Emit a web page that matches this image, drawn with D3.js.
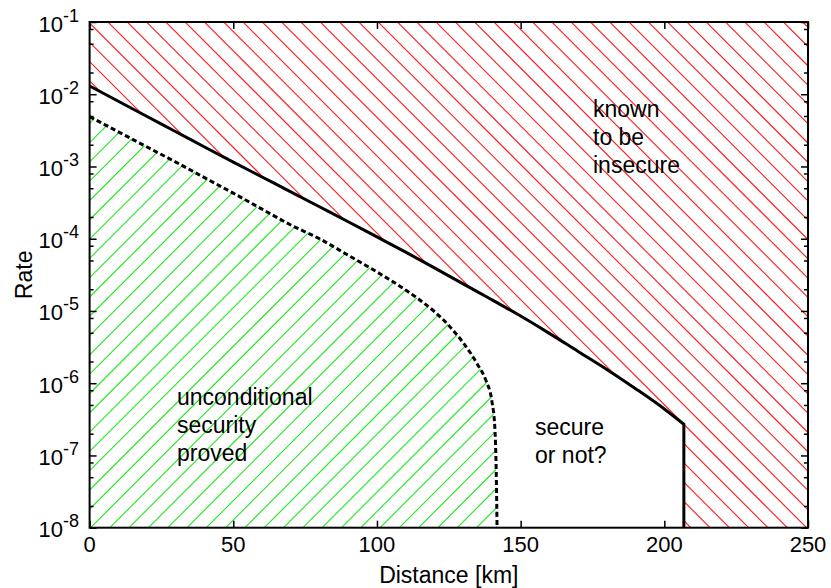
<!DOCTYPE html>
<html><head><meta charset="utf-8">
<script src="https://cdn.jsdelivr.net/npm/d3@7"></script>
<style>
html,body{margin:0;padding:0;background:#fff;}
text{font-family:"Liberation Sans",Arial,Helvetica,sans-serif;fill:#000;}
</style></head>
<body>
<svg id="chart" width="831" height="588"></svg>
<script>
// ---- data ----
const upperDist = [0,10,20,30,40,50,60,70,80,90,100,110,120,130,140,150,160,170,180,190,200,206.8];
const upperRate = [1.30e-2,8.0e-3,4.92e-3,3.03e-3,1.86e-3,1.15e-3,7.16e-4,4.46e-4,2.77e-4,1.72e-4,1.06e-4,6.52e-5,3.95e-5,2.37e-5,1.43e-5,8.5e-6,4.9e-6,2.75e-6,1.55e-6,8.4e-7,4.4e-7,2.7e-7];
const upperCutoff = 206.8;
const lowerDist = [0,10,20,30,40,50,60,70,80,90,100,110,115,120,125,130,135,138,140,141,141.5,141.8];
const lowerRate = [4.9e-3,3.02e-3,1.86e-3,1.15e-3,7.0e-4,4.27e-4,2.57e-4,1.55e-4,1.0e-4,5.9e-5,3.47e-5,1.95e-5,1.41e-5,9.8e-6,6.3e-6,3.63e-6,1.82e-6,1.07e-6,5.6e-7,2.5e-7,6.0e-8,1.0e-8];
const xTicks = [0,50,100,150,200,250];
const yMajorExp = [-8,-7,-6,-5,-4,-3,-2,-1];
const yMinorMult = [2,5,8];
const xTitle = "Distance [km]";
const yTitle = "Rate";
const labelInsecure = ["known","to be","insecure"];
const labelProved = ["unconditional","security","proved"];
const labelUnknown = ["secure","or not?"];

// ---- layout ----
const L = 89.6, R = 808, T = 22, B = 527.7;
const svg = d3.select("#chart");
const x = d3.scaleLinear().domain([0,250]).range([L,R]);
const y = d3.scaleLog().domain([1e-8,1e-1]).range([B,T]);
const yMin = 1e-8, yMax = 1e-1, xMax = 250;

const upper = upperDist.map((d,i)=>[d,upperRate[i]]);
const lower = lowerDist.map((d,i)=>[d,lowerRate[i]]);

const lineGen = d3.line().x(d=>x(d[0])).y(d=>y(d[1])).curve(d3.curveMonotoneX);

const upperPath = lineGen(upper);
const lowerPath = lineGen(lower);
const redD = `M${x(0)},${y(yMax)}L${x(0)},${y(upper[0][1])}` + upperPath.replace(/^M[^CLZ]*/, "") +
  `L${x(upperCutoff)},${y(yMin)}L${x(xMax)},${y(yMin)}L${x(xMax)},${y(yMax)}Z`;
const greenD = `M${x(0)},${y(yMin)}L${x(0)},${y(lower[0][1])}` + lowerPath.replace(/^M[^CLZ]*/, "") +
  `L${x(lowerDist[lowerDist.length-1])},${y(yMin)}Z`;

const defs = svg.append("defs");
defs.append("clipPath").attr("id","clipRed").append("path").attr("d",redD);
defs.append("clipPath").attr("id","clipGreen").append("path").attr("d",greenD);

const sp = 19.3;
// red hatch: lines x - y = c  (down-right)
const gRed = svg.append("g").attr("clip-path","url(#clipRed)");
for (let c = 8.7 - sp*40; c < 900; c += sp) {
  gRed.append("line").attr("x1",c).attr("y1",0).attr("x2",c+600).attr("y2",600)
    .attr("stroke","#ff1a1a").attr("stroke-width",1.1);
}
// green hatch: lines x + y = c (up-right)
const gGreen = svg.append("g").attr("clip-path","url(#clipGreen)");
for (let c = 0.6; c < 1500; c += sp) {
  gGreen.append("line").attr("x1",c).attr("y1",0).attr("x2",c-700).attr("y2",700)
    .attr("stroke","#22e622").attr("stroke-width",1.1);
}

// curves
svg.append("path").attr("d", upperPath + `L${x(upperCutoff)},${y(yMin)}`)
  .attr("fill","none").attr("stroke","#000").attr("stroke-width",3).attr("stroke-linejoin","miter");
svg.append("path").attr("d", lowerPath)
  .attr("fill","none").attr("stroke","#000").attr("stroke-width",3).attr("stroke-dasharray","5,3");

// ticks
const yMajors = yMajorExp.map(e=>Math.pow(10,e));
const yMinors = [];
yMajorExp.slice(0,-1).forEach(e=>yMinorMult.forEach(m=>yMinors.push(m*Math.pow(10,e))));
const noLab = ()=>"";
function axisG(gen){ const g = svg.append("g").call(gen); g.select(".domain").remove(); g.selectAll("line").attr("stroke","#000").attr("stroke-width",1.5); return g; }
axisG(d3.axisLeft(y).tickValues(yMajors).tickSize(-7).tickFormat(noLab)).attr("transform",`translate(${L},0)`);
axisG(d3.axisLeft(y).tickValues(yMinors).tickSize(-4).tickFormat(noLab)).attr("transform",`translate(${L},0)`);
axisG(d3.axisRight(y).tickValues(yMajors).tickSize(-7).tickFormat(noLab)).attr("transform",`translate(${R},0)`);
axisG(d3.axisRight(y).tickValues(yMinors).tickSize(-4).tickFormat(noLab)).attr("transform",`translate(${R},0)`);
axisG(d3.axisBottom(x).tickValues(xTicks).tickSize(-7).tickFormat(noLab)).attr("transform",`translate(0,${B})`);
axisG(d3.axisTop(x).tickValues(xTicks).tickSize(-7).tickFormat(noLab)).attr("transform",`translate(0,${T})`);

// frame
svg.append("rect").attr("x",L).attr("y",T).attr("width",R-L).attr("height",B-T)
  .attr("fill","none").attr("stroke","#000").attr("stroke-width",2);

// y tick labels
yMajorExp.forEach(e=>{
  const t = svg.append("text").attr("x",79).attr("y",y(Math.pow(10,e))+9.5)
    .attr("text-anchor","end").style("font-size","22px");
  t.append("tspan").text("10");
  t.append("tspan").attr("dy",-10).style("font-size","18px").text(String(e));
});
// x tick labels
xTicks.forEach(v=>{
  svg.append("text").attr("x",x(v)).attr("y",552).attr("text-anchor","middle")
    .style("font-size","22px").text(v);
});
// axis titles
svg.append("text").attr("x",(L+R)/2).attr("y",583).attr("text-anchor","middle")
  .style("font-size","23px").text(xTitle);
svg.append("text").attr("transform",`translate(32,${(T+B)/2}) rotate(-90)`)
  .attr("text-anchor","middle").style("font-size","23px").text(yTitle);

// region labels
function block(lines, x0, y0, dy){
  lines.forEach((s,i)=>svg.append("text").attr("x",x0).attr("y",y0+i*dy)
    .style("font-size","23px").text(s));
}
block(labelInsecure, 593, 117, 28.2);
block(labelProved, 177, 405, 28.2);
block(labelUnknown, 535, 435, 28.2);
</script>
</body></html>
